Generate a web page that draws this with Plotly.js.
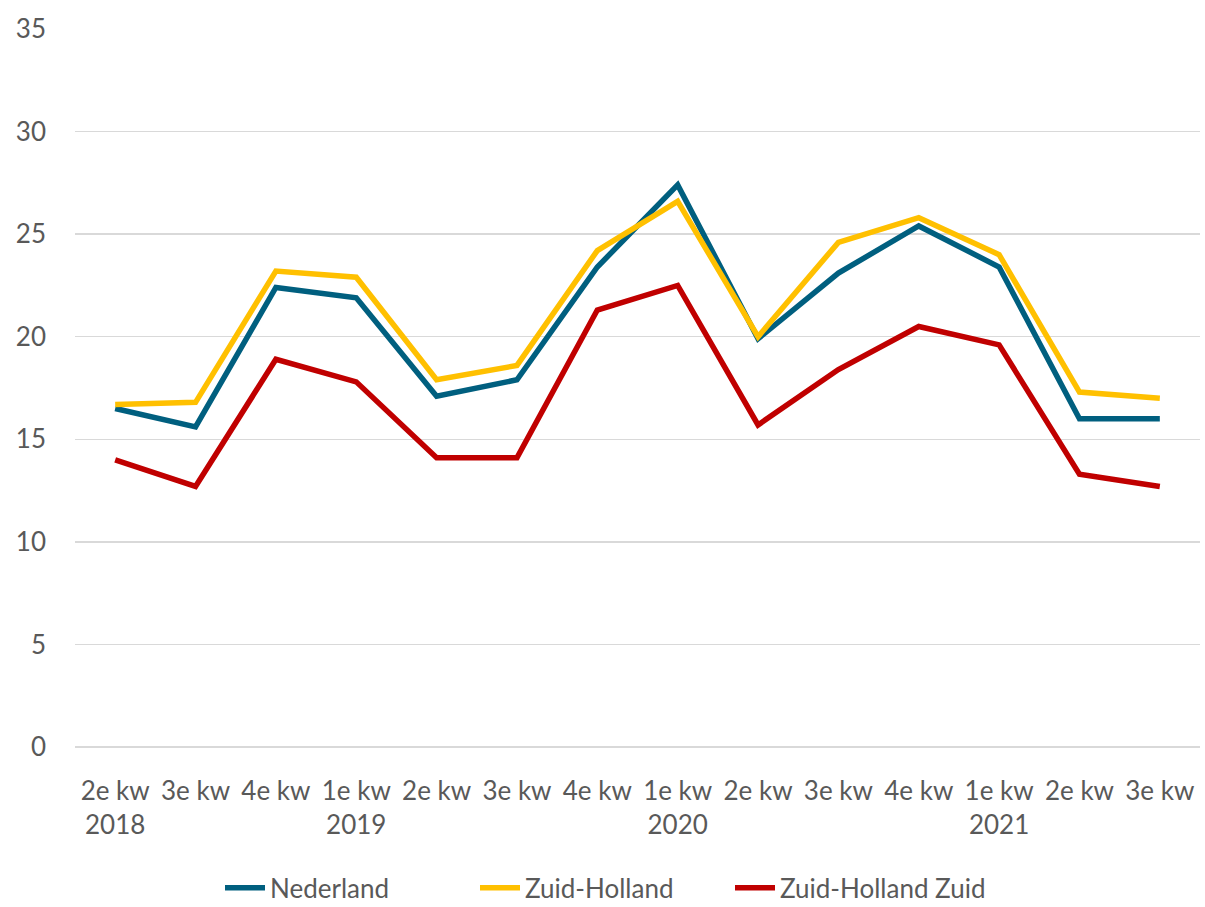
<!DOCTYPE html>
<html>
<head>
<meta charset="utf-8">
<script src="https://cdn.plot.ly/plotly-3.0.1.min.js"></script>
<style>html,body{margin:0;padding:0;background:#fff;}#chart{width:1205px;height:907px;}</style>
</head>
<body>
<div id="chart"></div>
<script>
const quarters = ["2e kw","3e kw","4e kw","1e kw","2e kw","3e kw","4e kw","1e kw","2e kw","3e kw","4e kw","1e kw","2e kw","3e kw"];
const years = ["2018","","","2019","","","","2020","","","","2021","",""];
const nederland = [16.5,15.6,22.4,21.9,17.1,17.9,23.4,27.4,19.9,23.1,25.4,23.4,16.0,16.0];
const zuidHolland = [16.7,16.8,23.2,22.9,17.9,18.6,24.2,26.6,20.0,24.6,25.8,24.0,17.3,17.0];
const zuidHollandZuid = [14.0,12.7,18.9,17.8,14.1,14.1,21.3,22.5,15.7,18.4,20.5,19.6,13.3,12.7];

const idx = quarters.map((q,i)=>i);
const tickText = quarters.map((q,i)=> years[i] ? q + "<br>" + years[i] : q);

const mk = (name, y, color) => ({
  type: "scatter", mode: "lines", name: name, x: idx, y: y,
  line: {color: color, width: 5.5, shape: "linear"}
});

const data = [
  mk("Nederland", nederland, "#005F7F"),
  mk("Zuid-Holland", zuidHolland, "#FFC000"),
  mk("Zuid-Holland Zuid", zuidHollandZuid, "#C00000")
];

const layout = {
  width: 1205, height: 907,
  margin: {l: 75, r: 5, t: 29, b: 160, autoexpand: false},
  paper_bgcolor: "#fff", plot_bgcolor: "#fff",
  font: {family: "Lato, 'Open Sans', sans-serif", size: 26, color: "#595959"},
  showlegend: true,
  legend: {orientation: "h", x: 0.5, xanchor: "center", xref: "container",
           y: 0.021, yanchor: "middle", yref: "container",
           font: {size: 26, color: "#595959"}, itemwidth: 40,
           entrywidth: 200, entrywidthmode: "pixels"},
  xaxis: {
    range: [-0.5, 13.5], tickmode: "array", tickvals: idx, ticktext: tickText,
    showgrid: false, zeroline: false, showline: false, ticks: "",
    tickangle: 0, ticklabelstandoff: 26, fixedrange: true, automargin: false
  },
  yaxis: {
    range: [0, 35], dtick: 5, tick0: 0, showgrid: true, gridcolor: "#D9D9D9", gridwidth: 1.5,
    zeroline: true, zerolinecolor: "#D9D9D9", zerolinewidth: 1.5, showline: false, ticks: "",
    ticklabelstandoff: 28, fixedrange: true, automargin: false
  }
};

Plotly.newPlot("chart", data, layout, {displayModeBar: false, staticPlot: true});
</script>
</body>
</html>
